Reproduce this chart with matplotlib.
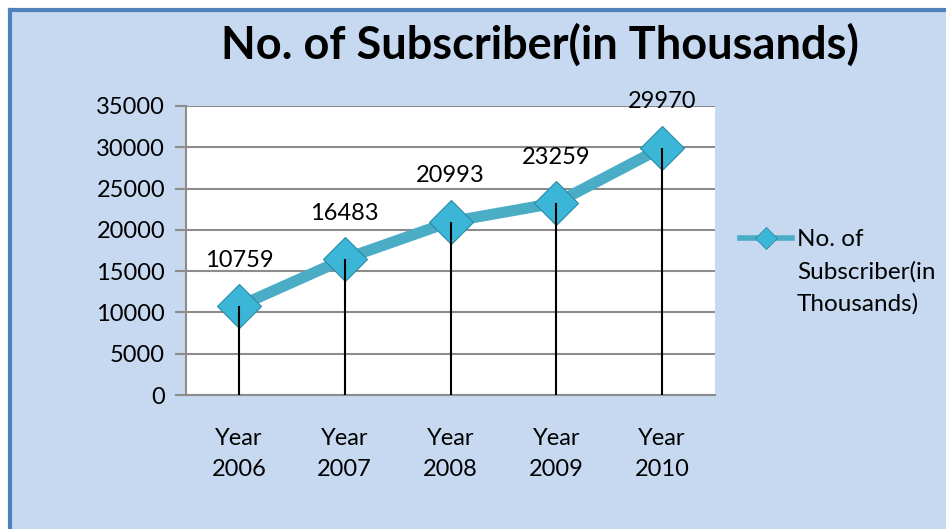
import matplotlib
matplotlib.use("Agg")
import matplotlib.pyplot as plt
from matplotlib.lines import Line2D

years = ["Year\n2006", "Year\n2007", "Year\n2008", "Year\n2009", "Year\n2010"]
subscribers = [10759, 16483, 20993, 23259, 29970]
y_ticks = [0, 5000, 10000, 15000, 20000, 25000, 30000, 35000]
series_name = "No. of\nSubscriber(in\nThousands)"
title = "No. of Subscriber(in Thousands)"

BG = "#c6d9f1"
LINE = "#4bacc6"
MARK = "#3bb6d6"
GRID = "#8c8c8c"

plt.rcParams["font.family"] = ["Lato", "DejaVu Sans"]

W, H = 946, 529
fig = plt.figure(figsize=(W / 100, H / 100), dpi=100)
fig.patch.set_facecolor("white")

# chart area background with blue frame on left/top
bg = plt.Rectangle((10 / W, 0), 1 - 10 / W, 1 - 10 / H, transform=fig.transFigure,
                   facecolor=BG, edgecolor="none", zorder=-5)
fig.patches.append(bg)
fig.add_artist(Line2D([10 / W, 10 / W], [0, 1 - 10 / H], color="#4f81bd", lw=3,
                      transform=fig.transFigure, zorder=-4))
fig.add_artist(Line2D([10 / W, 1], [1 - 10 / H, 1 - 10 / H], color="#4f81bd", lw=3,
                      transform=fig.transFigure, zorder=-4))

ax = fig.add_axes([186 / W, 1 - 395 / H, (715 - 186) / W, (395 - 106) / H])
ax.set_facecolor("white")
x = [i + 0.5 for i in range(len(years))]
ax.set_xlim(0, len(years))
ax.set_ylim(0, 35000)
ax.set_yticks(y_ticks)
ax.set_yticklabels([str(v) for v in y_ticks], fontsize=17)
ax.yaxis.grid(True, color=GRID, lw=1.5)
ax.set_axisbelow(True)
ax.tick_params(axis="y", length=8, width=1.5, color=GRID, pad=7)
ax.set_xticks(x)
ax.set_xticklabels(years, fontsize=17, linespacing=1.55)
ax.tick_params(axis="x", length=0, pad=24)
for s in ["top", "right"]:
    ax.spines[s].set_visible(False)
ax.spines["left"].set_color(GRID)
ax.spines["left"].set_linewidth(1.5)
ax.spines["bottom"].set_color(GRID)
ax.spines["bottom"].set_linewidth(1.5)

ax.plot(x, subscribers, color=LINE, lw=8, marker="D", markersize=22,
        markerfacecolor=MARK, markeredgecolor="#2a8aa6", markeredgewidth=0.8,
        solid_capstyle="round", zorder=3, clip_on=False)
ax.vlines(x, 0, subscribers, color="black", lw=1.5, zorder=4)

for xi, v in zip(x, subscribers):
    ax.annotate(str(v), (xi, v), xytext=(0, 33), textcoords="offset points",
                ha="center", va="center", fontsize=17, zorder=5, annotation_clip=False)

fig.text(540 / W, 1 - 45 / H, title, ha="center", va="center", fontsize=32.5,
         fontweight="bold")

# legend
fig.add_artist(Line2D([740 / W, 792 / W], [1 - 238 / H] * 2, color=LINE, lw=4,
                      transform=fig.transFigure))
fig.add_artist(Line2D([766 / W], [1 - 238 / H], marker="D", markersize=11,
                      markerfacecolor=MARK, markeredgecolor="#2a8aa6",
                      markeredgewidth=0.6, transform=fig.transFigure))
fig.text(797 / W, 1 - 229 / H, series_name, ha="left", va="top", fontsize=17.5,
         linespacing=1.62)

fig.savefig("out.png", dpi=100)
